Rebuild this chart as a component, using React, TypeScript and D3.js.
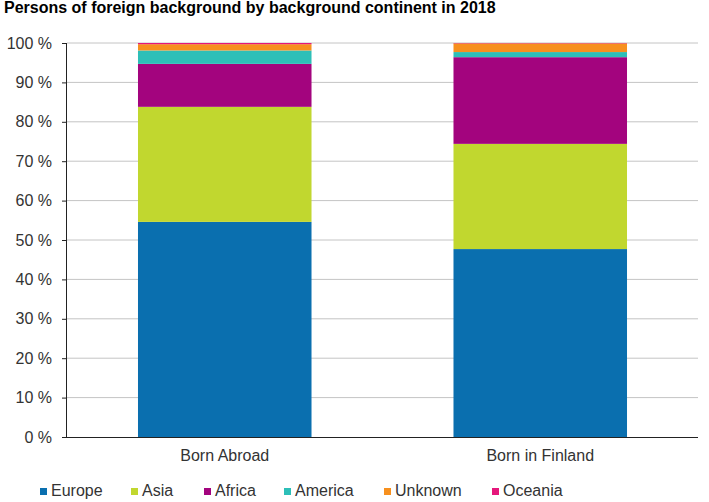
import { useEffect, useRef } from 'react';
import * as d3 from 'd3';

const categories = ['Born Abroad', 'Born in Finland'];
const continents = ['Europe', 'Asia', 'Africa', 'America', 'Unknown', 'Oceania'];
const colors = ['#0a6faf', '#c1d72f', '#a3047e', '#2dbfb8', '#f7901e', '#e5177b'];
// shares in percent, one array per continent: [Born Abroad, Born in Finland]
const europe = [54.6, 47.7];
const asia = [29.2, 26.7];
const africa = [10.9, 22.0];
const america = [3.4, 1.3];
const unknown = [1.6, 2.2];
const oceania = [0.3, 0.1];
const yTicks = [0, 10, 20, 30, 40, 50, 60, 70, 80, 90, 100];

const seriesValues = [europe, asia, africa, america, unknown, oceania];

export default function App() {
  const svgRef = useRef<SVGSVGElement>(null);

  useEffect(() => {
    if (!svgRef.current) return;
    const svg = d3.select(svgRef.current);
    svg.selectAll('*').remove();

    const width = 709;
    const height = 502;
    const margin = { top: 43, right: 11, bottom: 65, left: 67 };
    const font = 'Arial, "Liberation Sans", sans-serif';

    svg.attr('width', width).attr('height', height).style('font-family', font);

    const rows = categories.map((c, i) => {
      const r: any = { category: c };
      continents.forEach((k, j) => (r[k] = seriesValues[j][i]));
      return r;
    });
    const stacked = d3.stack<any>().keys(continents)(rows);

    const x = d3
      .scaleBand()
      .domain(categories)
      .range([margin.left, width - margin.right])
      .paddingInner(0.45)
      .paddingOuter(0.225);
    const y = d3
      .scaleLinear()
      .domain([0, 100])
      .range([height - margin.bottom, margin.top]);

    // title
    svg
      .append('text')
      .attr('x', 4)
      .attr('y', 13)
      .attr('font-size', 16)
      .attr('font-weight', 'bold')
      .attr('fill', '#000')
      .text('Persons of foreign background by background continent in 2018');

    // gridlines
    svg
      .append('g')
      .selectAll('line')
      .data(yTicks.filter((t) => t > 0))
      .join('line')
      .attr('x1', margin.left)
      .attr('x2', width - margin.right)
      .attr('y1', (d) => y(d))
      .attr('y2', (d) => y(d))
      .attr('stroke', '#c4c4c4')
      .attr('stroke-width', 1);

    // bars
    svg
      .append('g')
      .selectAll('g')
      .data(stacked)
      .join('g')
      .attr('fill', (_, i) => colors[i])
      .selectAll('rect')
      .data((d) => d)
      .join('rect')
      .attr('x', (d: any) => x(d.data.category)!)
      .attr('width', x.bandwidth())
      .attr('y', (d) => y(d[1]))
      .attr('height', (d) => y(d[0]) - y(d[1]));

    // y axis
    const yAxis = svg
      .append('g')
      .attr('transform', `translate(${margin.left},0)`)
      .call(
        d3
          .axisLeft(y)
          .tickValues(yTicks)
          .tickSize(5)
          .tickPadding(10)
          .tickFormat((d) => `${d} %`)
      );
    yAxis.select('.domain').attr('stroke', '#222').attr('d', `M-0.5,${y(100)}V${y(0)}`);
    yAxis.selectAll('.tick line').attr('stroke', '#222');
    yAxis
      .selectAll('.tick text')
      .attr('font-size', 16)
      .attr('font-family', font)
      .attr('fill', '#333');

    // x axis
    const xAxis = svg
      .append('g')
      .attr('transform', `translate(0,${y(0)})`)
      .call(d3.axisBottom(x).tickSize(0).tickPadding(13));
    xAxis.select('.domain').attr('stroke', '#222').attr('d', `M${margin.left},0.5H${width - margin.right}`);
    xAxis
      .selectAll('.tick text')
      .attr('font-size', 16)
      .attr('font-family', font)
      .attr('fill', '#333');

    // legend
    const legendX = [40, 131, 204, 284, 384, 492];
    const legend = svg
      .append('g')
      .selectAll('g')
      .data(continents)
      .join('g')
      .attr('transform', (_, i) => `translate(${legendX[i]},496)`);
    legend
      .append('rect')
      .attr('x', 0)
      .attr('y', -8)
      .attr('width', 7)
      .attr('height', 7)
      .attr('fill', (_, i) => colors[i]);
    legend
      .append('text')
      .attr('x', 11)
      .attr('y', 0)
      .attr('font-size', 16)
      .attr('fill', '#333')
      .text((d) => d);
  }, []);

  return (
    <div style={{ position: 'absolute', left: 0, top: 0, background: '#fff' }}>
      <svg ref={svgRef}></svg>
    </div>
  );
}
